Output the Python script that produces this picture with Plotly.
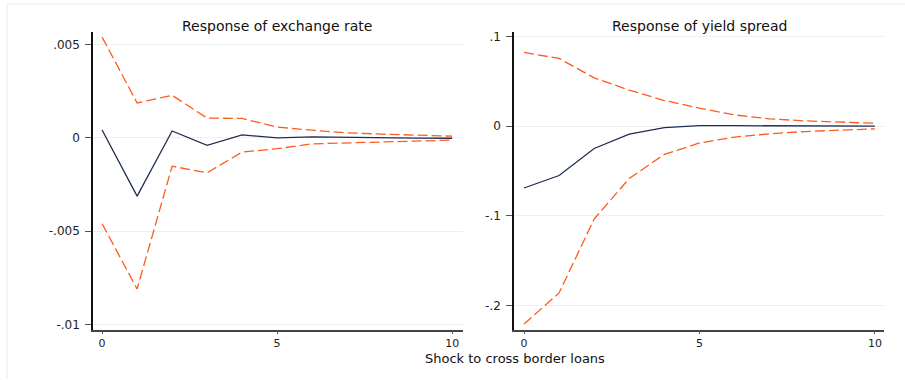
import plotly.graph_objects as go

steps = list(range(11))

# Response of exchange rate
er_irf = [0.00042, -0.00312, 0.00037, -0.00040, 0.00016, 0.0, 0.00005, 0.00002, 0.0, -0.00001, -0.00002]
er_upper = [0.0054, 0.00187, 0.00228, 0.00106, 0.00104, 0.00058, 0.00041, 0.00027, 0.00020, 0.00014, 0.00009]
er_lower = [-0.0046, -0.0081, -0.00152, -0.00187, -0.00076, -0.00058, -0.00032, -0.00027, -0.00021, -0.00017, -0.00012]

# Response of yield spread
ys_irf = [-0.0689, -0.0550, -0.0248, -0.0088, -0.0016, 0.0006, 0.0006, 0.0005, 0.0004, 0.0003, 0.0002]
ys_upper = [0.0824, 0.0756, 0.0540, 0.0403, 0.0287, 0.0202, 0.0126, 0.0082, 0.0060, 0.0044, 0.0033]
ys_lower = [-0.2207, -0.1860, -0.1035, -0.0582, -0.0314, -0.0187, -0.0121, -0.0084, -0.0059, -0.0040, -0.0029]

x_ticks = [0, 5, 10]
er_ticks = [0.005, 0, -0.005, -0.01]
er_ticklabels = [".005", "0", "-.005", "-.01"]
ys_ticks = [0.1, 0, -0.1, -0.2]
ys_ticklabels = [".1", "0", "-.1", "-.2"]

titles = ["Response of exchange rate", "Response of yield spread"]
xlabel = "Shock to cross border loans"

NAVY = "#1f2d55"
ORANGE = "#ff5a1e"
FONT = "DejaVu Sans"
W, H = 905, 380

fig = go.Figure()
for xa, ya, irf, up, lo in [("x", "y", er_irf, er_upper, er_lower),
                            ("x2", "y2", ys_irf, ys_upper, ys_lower)]:
    fig.add_trace(go.Scatter(x=steps, y=up, mode="lines", xaxis=xa, yaxis=ya,
                             line=dict(color=ORANGE, width=1.3, dash="10px,4px")))
    fig.add_trace(go.Scatter(x=steps, y=lo, mode="lines", xaxis=xa, yaxis=ya,
                             line=dict(color=ORANGE, width=1.3, dash="10px,4px")))
    fig.add_trace(go.Scatter(x=steps, y=irf, mode="lines", xaxis=xa, yaxis=ya,
                             line=dict(color=NAVY, width=1.3)))

def px_x(p):
    return p / W

def px_y(p):
    return 1 - p / H

common_x = dict(tickvals=x_ticks, ticktext=[str(v) for v in x_ticks], showgrid=False,
                zeroline=False, showline=True, linecolor="#444444", linewidth=1.5,
                ticks="outside", ticklen=3, tickcolor="#555555",
                tickfont=dict(family=FONT, size=11, color="#222222"))
common_y = dict(showgrid=True, gridcolor="#ebf0f0", gridwidth=1, zeroline=False,
                showline=True, linecolor="#111111", linewidth=1.5,
                ticks="outside", ticklen=6, tickcolor="#555555", ticklabelstandoff=3,
                tickfont=dict(family=FONT, size=12, color="#222222"))

fig.update_layout(
    width=W, height=H,
    margin=dict(l=0, r=0, t=0, b=0),
    paper_bgcolor="white", plot_bgcolor="white",
    showlegend=False,
    xaxis=dict(domain=[px_x(93), px_x(463)], range=[-0.26, 10.31], anchor="y", **common_x),
    yaxis=dict(domain=[px_y(331), px_y(30)], range=[-0.01027, 0.00569], anchor="x",
               tickvals=er_ticks, ticktext=er_ticklabels, **common_y),
    xaxis2=dict(domain=[px_x(514), px_x(884)], range=[-0.285, 10.26], anchor="y2", **common_x),
    yaxis2=dict(domain=[px_y(331), px_y(30)], range=[-0.2268, 0.1055], anchor="x2",
                tickvals=ys_ticks, ticktext=ys_ticklabels, **common_y),
    annotations=[
        dict(text=titles[0], x=px_x(277), y=px_y(24), xref="paper", yref="paper",
             showarrow=False, font=dict(family=FONT, size=14, color="#111111"),
             xanchor="center", yanchor="middle"),
        dict(text=titles[1], x=px_x(699), y=px_y(24), xref="paper", yref="paper",
             showarrow=False, font=dict(family=FONT, size=14, color="#111111"),
             xanchor="center", yanchor="middle"),
        dict(text=xlabel, x=px_x(515), y=px_y(360), xref="paper", yref="paper",
             showarrow=False, font=dict(family=FONT, size=13, color="#111111"),
             xanchor="center", yanchor="middle", borderpad=0),
    ],
    shapes=[
        dict(type="line", xref="paper", yref="paper", x0=px_x(7), x1=px_x(7),
             y0=0, y1=px_y(2), line=dict(color="#e6ecec", width=1)),
        dict(type="line", xref="paper", yref="paper", x0=px_x(7), x1=1,
             y0=px_y(2), y1=px_y(2), line=dict(color="#e6ecec", width=1)),
    ],
)

fig.write_html("out.html", config={"displayModeBar": False},
               post_script="document.body.style.margin='0';")
